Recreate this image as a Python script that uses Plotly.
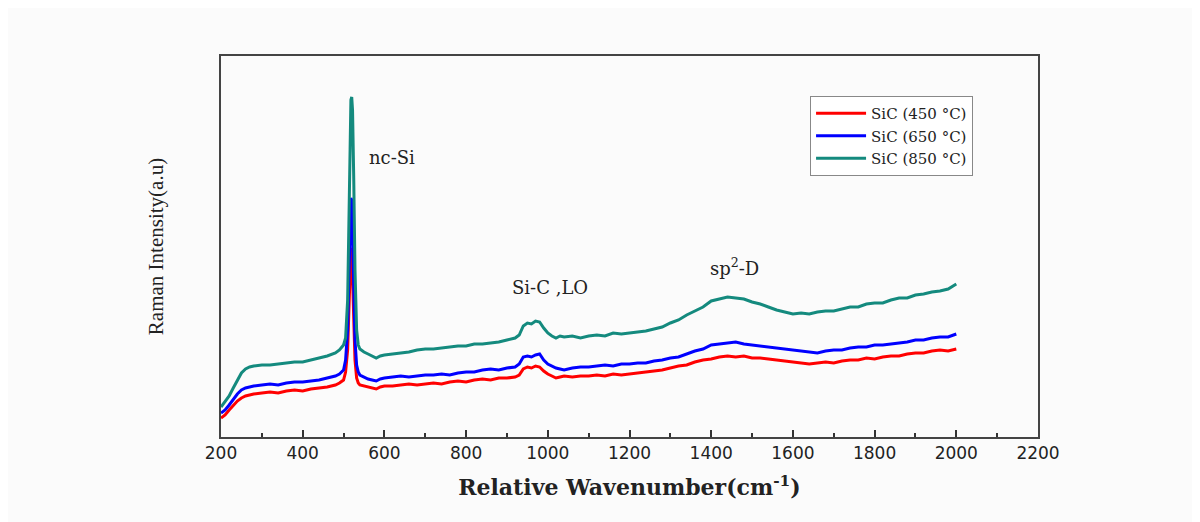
import plotly.graph_objects as go

wavenumber = [200, 210, 220, 230, 240, 250, 260, 270, 280,
              300, 320, 340, 360, 380, 400, 420, 440, 460, 480,
              490, 500, 505, 510, 513, 516, 518, 520, 522, 525, 528, 532, 536, 540,
              550, 560, 570, 580, 590, 600,
              620, 640, 660, 680, 700, 720, 740, 760, 780, 800, 820, 840, 860, 880, 900, 920,
              930, 940, 950, 960, 970, 980, 990, 1000, 1010, 1020, 1030, 1040,
              1060, 1080, 1100, 1120, 1140, 1160, 1180, 1200, 1220, 1240, 1260, 1280, 1300,
              1320, 1340, 1360, 1380, 1400, 1420, 1440, 1460, 1480, 1500, 1520, 1540, 1560,
              1580, 1600, 1620, 1640, 1660, 1680, 1700, 1720, 1740, 1760, 1780, 1800, 1820,
              1840, 1860, 1880, 1900, 1920, 1940, 1960, 1980, 2000]

sic_450 = [19, 22, 27, 32, 36, 39, 41, 42, 43,
           44, 45, 44, 46, 47, 46, 48, 49, 50, 52,
           54, 57, 65, 87, 127, 172, 189, 187, 162, 117, 77, 59, 54, 52,
           51, 50, 49, 48, 50, 51,
           51, 52, 53, 52, 53, 54, 53, 55, 56, 55, 57, 58, 57, 59, 59, 60,
           62, 68, 70, 69, 71, 70, 66, 63, 61, 59, 60, 61,
           60, 61, 61, 62, 61, 63, 62, 63, 64, 65, 66, 67, 69,
           71, 72, 75, 77, 78, 80, 81, 80, 81, 79, 79, 78, 77,
           76, 75, 74, 73, 74, 75, 74, 76, 77, 77, 79, 78, 80,
           81, 81, 83, 84, 84, 86, 87, 86, 88]

sic_650 = [24, 27, 32, 38, 43, 47, 49, 50, 51,
           52, 53, 52, 54, 55, 55, 56, 57, 59, 61,
           63, 67, 77, 107, 157, 217, 239, 237, 207, 147, 97, 72, 65, 62,
           60, 58, 57, 56, 58, 59,
           60, 61, 60, 61, 62, 62, 63, 62, 64, 65, 65, 67, 68, 67, 69, 70,
           73, 80, 81, 80, 82, 83, 77, 73, 71, 69, 68, 67,
           69, 70, 70, 71, 72, 71, 73, 73, 74, 74, 76, 77, 79,
           80, 83, 86, 88, 92, 93, 94, 95, 93, 92, 91, 90, 89,
           88, 87, 86, 85, 84, 86, 87, 87, 89, 90, 90, 92, 92,
           93, 94, 95, 97, 97, 99, 100, 100, 103]

sic_850 = [30, 35, 41, 49, 57, 64, 68, 70, 71,
           72, 72, 73, 74, 75, 75, 77, 79, 81, 84,
           87, 92, 99, 137, 207, 297, 337, 340, 327, 257, 167, 107, 92, 88,
           85, 83, 81, 79, 81, 82,
           83, 84, 85, 87, 88, 88, 89, 90, 91, 91, 93, 93, 94, 95, 97, 99,
           102, 111, 114, 113, 116, 115, 109, 104, 101, 99, 101, 100,
           101, 99, 101, 102, 101, 104, 103, 104, 105, 106, 108, 110, 114,
           117, 122, 126, 130, 136, 138, 140, 139, 138, 135, 133, 130, 127,
           125, 123, 124, 123, 125, 126, 126, 128, 130, 130, 133, 134, 134,
           137, 139, 139, 142, 143, 145, 146, 148, 153]

series_names = ["SiC (450 °C)", "SiC (650 °C)", "SiC (850 °C)"]
series_colors = ["#FF0000", "#0000FF", "#148A7E"]

peak_labels = ["nc-Si", "Si-C ,LO", "sp<sup>2</sup>-D"]
peak_label_x = [619, 1005, 1458]
peak_label_y = [280, 150, 170]

x_ticks = list(range(200, 2201, 200))

fig = go.Figure()
for name, vals, col in zip(series_names, [sic_450, sic_650, sic_850], series_colors):
    fig.add_trace(go.Scatter(x=wavenumber, y=vals, mode="lines", name=name,
                             line=dict(color=col, width=3)))

for t, xx, yy in zip(peak_labels, peak_label_x, peak_label_y):
    fig.add_annotation(x=xx, y=yy, text=t, showarrow=False,
                       font=dict(family="DejaVu Serif", size=18, color="#222"))

fig.update_layout(
    width=1192, height=514,
    margin=dict(l=213, r=162, t=48, b=85),
    paper_bgcolor="#FBFBFB", plot_bgcolor="#FBFBFB",
    showlegend=True,
    legend=dict(x=0.721, y=0.895, xanchor="left", yanchor="top",
                bgcolor="#FFFFFF", bordercolor="#888888", borderwidth=1,
                font=dict(family="DejaVu Serif", size=15, color="#222"),
                itemwidth=50, tracegroupgap=0),
)
fig.update_xaxes(range=[200, 2200], tickvals=x_ticks, ticks="inside", ticklen=7,
                 tickwidth=1.5, tickcolor="#333", showline=True, linecolor="#444",
                 linewidth=2, mirror=True, showgrid=False, zeroline=False,
                 minor=dict(dtick=100, ticks="inside", ticklen=4, tickcolor="#333", tickwidth=1.5),
                 tickfont=dict(family="DejaVu Sans", size=17, color="#222"),
                 title=dict(text="Relative Wavenumber(cm<sup>-1</sup>)", standoff=17,
                            font=dict(family="DejaVu Serif", size=22, color="#222", weight="bold")))
fig.update_yaxes(range=[0, 381], showticklabels=False, ticks="", showline=True,
                 linecolor="#444", linewidth=2, mirror=True, showgrid=False, zeroline=False,
                 title=dict(text="Raman Intensity(a.u)", standoff=50,
                            font=dict(family="Liberation Serif", size=21, color="#222")))

fig.write_html("out.html")
